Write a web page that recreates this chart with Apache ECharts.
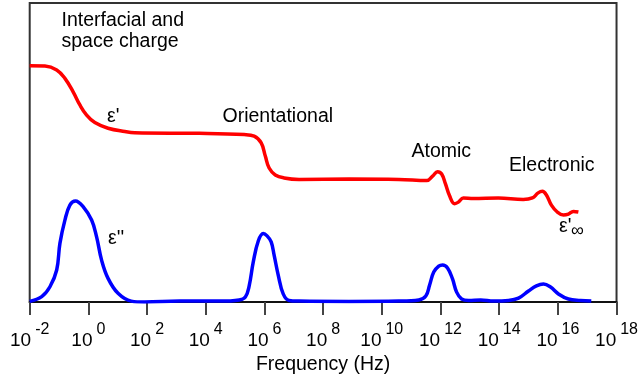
<!DOCTYPE html>
<html>
<head>
<meta charset="utf-8">
<script src="https://cdn.jsdelivr.net/npm/echarts@6/dist/echarts.min.js"></script>
<style>
  html, body { margin: 0; padding: 0; background: #fff; }
  #chart { width: 641px; height: 380px; }
</style>
</head>
<body>
<div id="chart"></div>
<script>
/* Dielectric dispersion sketch: eps' and eps'' against log10 frequency */

// x values are log10(frequency / Hz), y values are relative (0..100)
var realLogF = [-2, -1.48, -1.08, -0.8, -0.52, -0.29, -0.06, 0.22, 0.67, 1.24, 1.58, 3.78, 5.31, 5.65,
    5.89, 6.03, 6.16, 6.37, 6.67, 7.18, 8.88, 10.58, 11.53, 11.73, 11.9, 12.04, 12.17, 12.31, 12.48,
    12.61, 12.78, 13.12, 13.97, 14.82, 15.13, 15.33, 15.47, 15.61, 15.78, 15.98, 16.19, 16.36, 16.53, 16.7];
var realEps = [79.0, 78.9, 77.6, 74.8, 70.3, 65.9, 62.5, 60.0, 58.1, 57.0, 56.6, 56.4, 56.0, 55.5,
    53.2, 48.8, 44.8, 42.5, 41.5, 41.0, 41.1, 41.0, 40.6, 42.1, 43.6, 42.8, 39.5, 35.5, 32.9,
    33.4, 34.8, 34.6, 34.8, 34.3, 34.8, 36.5, 37.0, 35.8, 32.4, 30.1, 29.1, 29.4, 30.3, 30.1];

var lossLogF = [-2, -1.59, -1.31, -1.08, -0.97, -0.8, -0.63, -0.44, -0.18, 0.11, 0.28, 0.45, 0.67,
    1.01, 1.46, 1.92, 3.11, 4.47, 5.14, 5.35, 5.48, 5.62, 5.79, 5.96, 6.09, 6.23, 6.33,
    6.47, 6.64, 6.84, 7.18, 8.88, 10.58, 11.26, 11.5, 11.63, 11.77, 11.94, 12.07, 12.24, 12.41, 12.55,
    12.72, 12.96, 13.37, 13.81, 14.32, 14.66, 15.0, 15.27, 15.51, 15.75, 16.02, 16.36, 16.77, 17.14];
var lossEps = [0.2, 1.8, 5.1, 10.7, 19.6, 27.4, 32.4, 33.8, 31.9, 27.4, 21.8, 14.0, 7.9,
    2.9, 0.3, 0, 0.3, 0.3, 0.7, 1.7, 5.4, 13.4, 20.4, 22.9, 22.1, 20.1, 15.7,
    9.0, 2.7, 0.5, 0.3, 0.2, 0.3, 0.7, 2.0, 5.7, 10.0, 12.0, 12.4, 11.4, 7.7, 3.3,
    1.0, 0.5, 0.7, 0.3, 0.5, 1.3, 3.7, 5.4, 6.0, 5.0, 2.7, 1.0, 0.5, 0.3];

var logTicks = [-2, 0, 2, 4, 6, 8, 10, 12, 14, 16, 18];

var FONT = 'Liberation Sans, Arial, sans-serif';

function pairs(xs, ys) {
    return xs.map(function (x, i) { return [x, ys[i]]; });
}

// plain text annotation placed in pixels
function note(text, left, top, size, lineHeight) {
    var st = { text: text, font: (size || 19.5) + 'px ' + FONT, fill: '#000' };
    if (lineHeight) st.lineHeight = lineHeight;
    return { type: 'text', left: left, top: top, style: st };
}

var chart = echarts.init(document.getElementById('chart'));

var option = {
    animation: false,
    grid: {
        left: 29.7, right: 22.7, top: 3, bottom: 78,
        show: true, borderColor: '#333', borderWidth: 2
    },
    xAxis: {
        type: 'value',
        min: logTicks[0],
        max: logTicks[logTicks.length - 1],
        interval: 2,
        name: 'Frequency (Hz)',
        nameLocation: 'middle',
        nameGap: 51,
        nameTextStyle: { fontFamily: FONT, fontSize: 19.5, color: '#000' },
        axisLine: { lineStyle: { color: '#111', width: 2 } },
        axisTick: { length: 13, lineStyle: { color: '#444', width: 2 } },
        splitLine: { show: false },
        axisLabel: {
            margin: 20,
            formatter: function (v) { return '{b|10}{s|' + v + '}'; },
            rich: {
                b: { fontFamily: FONT, fontSize: 19, color: '#000', lineHeight: 28, verticalAlign: 'bottom' },
                s: { fontFamily: FONT, fontSize: 16, color: '#000', padding: [0, 0, 0, 4], verticalAlign: 'top' }
            }
        }
    },
    yAxis: {
        type: 'value',
        min: 0,
        max: 100,
        axisLine: { show: false },
        axisTick: { show: false },
        axisLabel: { show: false },
        splitLine: { show: false }
    },
    series: [
        {
            name: "ε'",
            type: 'line',
            data: pairs(realLogF, realEps),
            smooth: 0.4,
            showSymbol: false,
            lineStyle: { color: '#ff0000', width: 3.5 }
        },
        {
            name: "ε''",
            type: 'line',
            data: pairs(lossLogF, lossEps),
            smooth: 0.4,
            showSymbol: false,
            lineStyle: { color: '#0000ff', width: 3.5 }
        }
    ],
    graphic: [
        note('Interfacial and\nspace charge', 61.5, 10.5, 19.5, 21),
        note("ε'", 107, 107),
        note('Orientational', 222.5, 107),
        note('Atomic', 411.5, 142),
        note('Electronic', 509, 155.5),
        note("ε''", 108, 229),
        note("ε'", 559, 217),
        note('∞', 571, 222.5, 18)
    ]
};

chart.setOption(option);
</script>
</body>
</html>
